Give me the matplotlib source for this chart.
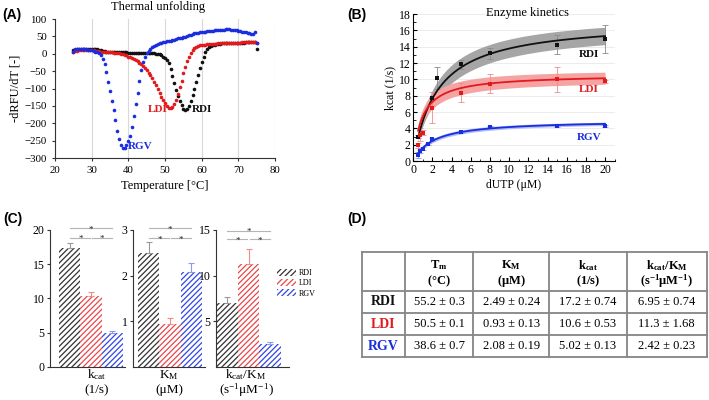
import numpy as np
import matplotlib
matplotlib.use('Agg')
import matplotlib.pyplot as plt
from matplotlib.ticker import MultipleLocator
from matplotlib.patches import Patch

plt.rcParams['font.family'] = ['Liberation Serif', 'DejaVu Serif']
plt.rcParams['mathtext.fontset'] = 'custom'
plt.rcParams['mathtext.rm'] = 'Liberation Serif'
plt.rcParams['mathtext.it'] = 'Liberation Serif:italic'
plt.rcParams['mathtext.bf'] = 'Liberation Serif:bold'
plt.rcParams['hatch.linewidth'] = 0.9

# ---------------- data ----------------
variants = ['RDI', 'LDI', 'RGV']
var_colors = ['#111111', '#e3191c', '#1a2ee0']

# Panel A: thermal unfolding (-dRFU/dT), 0.5 C steps 25..75
temp_c = np.arange(25.0, 75.01, 0.5)
rdi_dtm = [10, 12, 13, 13, 13, 13, 13, 13, 14, 14,
           15, 15, 15, 14, 12, 10, 8, 7, 6, 5,
           5, 4, 4, 4, 4, 4, 4, 4, 4, 4,
           3, 3, 3, 3, 3, 3, 3, 3, 3, 3,
           3, 3, 2, 2, 1, 0, -1, -2, -4, -8,
           -13, -18, -28, -45, -65, -85, -105, -122, -137, -148,
           -158, -163, -158, -150, -137, -120, -100, -80, -60, -42,
           -24, -8, 4, 13, 18, 21, 24, 26, 27, 28,
           29, 30, 30, 30, 30, 30, 30, 30, 30, 31,
           31, 31, 32, 32, 33, 33, 34, 34, 35, 35,
           15]
ldi_dtm = [5, 8, 9, 10, 10, 10, 11, 11, 11, 11,
           11, 10, 9, 8, 7, 6, 5, 5, 5, 5,
           4, 4, 3, 3, 2, 1, 0, -1, -3, -5,
           -8, -10, -13, -16, -19, -22, -26, -30, -36, -42,
           -48, -55, -62, -70, -80, -91, -102, -113, -124, -134,
           -143, -151, -156, -157, -154, -145, -132, -115, -97, -77,
           -56, -38, -22, -8, 3, 10, 16, 20, 23, 24,
           25, 26, 26, 27, 27, 28, 28, 29, 29, 30,
           30, 30, 31, 31, 31, 31, 32, 32, 32, 32,
           32, 32, 33, 33, 33, 33, 33, 33, 33, 33,
           32]
rgv_dtm = [5, 14, 15, 15, 15, 14, 14, 13, 12, 11,
           10, 8, 6, 4, 1, -4, -14, -30, -52, -80,
           -108, -135, -162, -192, -222, -245, -263, -271, -270, -262,
           -250, -236, -210, -180, -146, -112, -78, -48, -25, -8,
           2, 9, 14, 19, 23, 26, 28, 30, 32, 33,
           35, 36, 37, 38, 40, 41, 42, 44, 45, 46,
           47, 49, 51, 53, 55, 57, 59, 60, 61, 62,
           63, 64, 64, 65, 65, 66, 66, 67, 67, 68,
           68, 69, 69, 70, 70, 70, 69, 69, 68, 67,
           66, 65, 64, 63, 62, 61, 60, 58, 57, 62,
           30]

# Panel B: enzyme kinetics points
rdi_s = [0.5, 2, 2.5, 5, 8, 15, 20]
rdi_k = [3.0, 7.7, 10.2, 11.85, 13.2, 14.25, 14.95]
rdi_e = [0.15, 0.0, 1.35, 0.55, 0.65, 1.2, 1.75]
ldi_s = [0.5, 0.75, 1, 2, 5, 8, 15, 20]
ldi_k = [1.9, 3.2, 3.45, 6.5, 8.35, 9.45, 10.0, 9.75]
ldi_e = [0.3, 0.8, 0.3, 1.9, 1.15, 1.15, 1.55, 0.2]
rgv_s = [0.5, 0.75, 1, 1.5, 2, 5, 8, 15, 20]
rgv_k = [0.75, 1.2, 1.5, 2.1, 2.65, 3.55, 4.15, 4.25, 4.3]
rgv_e = [0.35, 0.2, 0.2, 0.15, 0.2, 0.1, 0.1, 0.1, 0.15]

# Fitted Michaelis-Menten parameters (table)
vmax = [17.2, 10.6, 5.02]
vmax_err = [0.74, 0.53, 0.13]
km = [2.49, 0.93, 2.08]
km_err = [0.24, 0.13, 0.19]

# Panel C: bars
kcat_vals = [17.3, 10.4, 5.0]
kcat_errs = [0.8, 0.5, 0.15]
km_vals = [2.49, 0.93, 2.07]
km_errs = [0.25, 0.13, 0.2]
eff_vals = [6.95, 11.24, 2.46]
eff_errs = [0.73, 1.66, 0.22]

# Panel D: table
tm_str = ['55.2 ± 0.3', '50.5 ± 0.1', '38.6 ± 0.7']
km_str = ['2.49 ± 0.24', '0.93 ± 0.13', '2.08 ± 0.19']
kcat_str = ['17.2 ± 0.74', '10.6 ± 0.53', '5.02 ± 0.13']
eff_str = ['6.95 ± 0.74', '11.3 ± 1.68', '2.42 ± 0.23']
head1 = [r'$\mathbf{T_m}$', r'$\mathbf{K_M}$', r'$\mathbf{k_{cat}}$', r'$\mathbf{k_{cat}/K_M}$']
head2 = [r'$\mathbf{(°C)}$', r'$\mathbf{(μM)}$', r'$\mathbf{(1/s)}$', r'$\mathbf{(s^{-1}μM^{-1})}$']

# ---------------- figure ----------------
W, H = 709, 400
fig = plt.figure(figsize=(7.09, 4.00), dpi=100)


def fax(l, t, r, b):
    return fig.add_axes([l / W, 1 - b / H, (r - l) / W, (b - t) / H])


panel_font = dict(family='Liberation Sans', weight='bold', fontsize=10)
fig.text(2 / W, 1 - 14.5 / H, '(A)', va='center', ha='left', **panel_font)
fig.text(347 / W, 1 - 14.5 / H, '(B)', va='center', ha='left', **panel_font)
fig.text(3 / W, 1 - 219 / H, '(C)', va='center', ha='left', **panel_font)
fig.text(347 / W, 1 - 219 / H, '(D)', va='center', ha='left', **panel_font)

# ---- Panel A ----
axA = fax(55, 19, 275, 158)
for vals, c in zip([rdi_dtm, ldi_dtm, rgv_dtm], var_colors):
    axA.plot(temp_c, vals, 'o', ms=2.6, mew=0, color=c, clip_on=False)
axA.set_xlim(20, 80)
axA.set_ylim(-300, 100)
axA.set_xticks(range(20, 81, 10))
axA.set_yticks(range(-300, 101, 50))
axA.xaxis.grid(True, color='#d9d9d9', lw=0.8)
axA.set_axisbelow(True)
for s in ['top', 'right']:
    axA.spines[s].set_visible(False)
axA.spines['left'].set_color('#333333')
axA.spines['bottom'].set_color('#333333')
axA.tick_params(labelsize=7.8, length=2, pad=4, color='#333333')
axA.set_xlabel('Temperature [°C]', fontsize=9, labelpad=3)
axA.set_ylabel('-dRFU/dT [-]', fontsize=9, labelpad=2)
axA.text(0.468, 1.088, 'Thermal unfolding', transform=axA.transAxes,
         ha='center', va='center', fontsize=9)
axA.text(48, -159, 'LDI', color=var_colors[1], fontsize=8, fontweight='bold',
         ha='center', va='center')
axA.text(60, -160, 'RDI', color=var_colors[0], fontsize=8, fontweight='bold',
         ha='center', va='center')
axA.text(43.3, -266, 'RGV', color=var_colors[2], fontsize=8, fontweight='bold',
         ha='center', va='center')

# ---- Panel B ----
axB = fax(413.3, 14, 614.6, 161)
band_cols = ['#a6a6a6', '#f5a3a3', '#b3bcf2']
s_fit = np.linspace(0.5, 20, 200)
k_band = 1.3
for i in range(3):
    up = (vmax[i] + k_band * vmax_err[i]) * s_fit / (km[i] - k_band * km_err[i] + s_fit)
    lo = (vmax[i] - k_band * vmax_err[i]) * s_fit / (km[i] + k_band * km_err[i] + s_fit)
    axB.fill_between(s_fit, lo, up, color=band_cols[i], lw=0, zorder=1)
for i in range(3):
    fit = vmax[i] * s_fit / (km[i] + s_fit)
    axB.plot(s_fit, fit, color=var_colors[i], lw=1.3, zorder=3)
err_cols = ['#8a8a8a', '#f08a8a', '#8a96ee']
for (sx, ky, ke), c, ec in zip([(rdi_s, rdi_k, rdi_e), (ldi_s, ldi_k, ldi_e), (rgv_s, rgv_k, rgv_e)],
                               var_colors, err_cols):
    axB.errorbar(sx, ky, yerr=ke, fmt='none', ecolor=ec, elinewidth=0.6,
                 capsize=2.2, capthick=0.6, zorder=2)
    axB.plot(sx, ky, 's', ms=3, color=c, mew=0, zorder=4)
axB.set_xlim(0, 21)
axB.set_ylim(0, 18)
axB.set_xticks(range(0, 21, 2))
axB.set_yticks(range(0, 19, 2))
axB.xaxis.set_minor_locator(MultipleLocator(1))
axB.yaxis.set_minor_locator(MultipleLocator(1))
axB.yaxis.grid(True, color='#ececec', lw=0.7)
axB.set_axisbelow(True)
for s in ['top', 'right']:
    axB.spines[s].set_visible(False)
axB.tick_params(which='both', direction='in', labelsize=8.5, pad=2)
axB.tick_params(which='major', length=3)
axB.tick_params(which='minor', length=1.8)
axB.set_xlabel('dUTP (μM)', fontsize=8.5, labelpad=2)
axB.set_ylabel('kcat (1/s)', fontsize=8.5, labelpad=2)
axB.text(0.565, 1.005, 'Enzyme kinetics', transform=axB.transAxes,
         ha='center', va='center', fontsize=9)
axB.text(18.3, 13.06, 'RDI', color=var_colors[0], fontsize=8, fontweight='bold',
         ha='center', va='center')
axB.text(18.3, 8.7, 'LDI', color=var_colors[1], fontsize=8, fontweight='bold',
         ha='center', va='center')
axB.text(18.3, 2.9, 'RGV', color=var_colors[2], fontsize=8, fontweight='bold',
         ha='center', va='center')

# ---- Panel C ----
hatch_cols = ['#333333', '#e8474a', '#3046e6']
cerr_cols = ['#9a9a9a', '#f28a8a', '#8a9af0']
c_specs = [
    (fax(50, 230, 125, 366.7), kcat_vals, kcat_errs, (0, 20), [0, 5, 10, 15, 20], (-0.94, 2.61),
     (18.9, 20.3), r'$\mathrm{k_{cat}}$', '(1/s)', 96.7),
    (fax(133.3, 230, 205, 366.7), km_vals, km_errs, (0, 3), [1, 2, 3], (-0.74, 2.66),
     (2.82, 3.04), r'$\mathrm{K_M}$', '(μM)', 169),
    (fax(216, 230, 289.3, 366.7), eff_vals, eff_errs, (0, 15), [5, 10, 15], (-0.53, 2.9),
     (13.98, 14.92), r'$\mathrm{k_{cat}/K_M}$', r'$\mathrm{(s^{-1}μM^{-1})}$', 246),
]
xpos = np.arange(3)
for ax, vals, errs, ylim, yt, xlim, brk, lab1, lab2, labx in c_specs:
    for i in range(3):
        ax.bar(xpos[i], vals[i], width=1.0, color='white', edgecolor=hatch_cols[i],
               hatch='//////', lw=0, zorder=2)
        ax.errorbar(xpos[i], vals[i], yerr=[[0], [errs[i]]], fmt='none', ecolor=cerr_cols[i],
                    elinewidth=0.8, capsize=2.2, capthick=0.8, zorder=3)
    ax.set_ylim(*ylim)
    ax.set_xlim(*xlim)
    ax.set_yticks(yt)
    ax.set_xticks([])
    for s in ['top', 'right']:
        ax.spines[s].set_visible(False)
    ax.spines['left'].set_color('#333333')
    ax.spines['bottom'].set_color('#333333')
    ax.tick_params(axis='y', labelsize=8.5, length=2.5, pad=1.5, color='#333333')
    lo_y, hi_y = brk
    gap = 0.06
    ax.plot([xpos[0], xpos[1] - gap], [lo_y, lo_y], color='#b5b5b5', lw=0.8, clip_on=False)
    ax.plot([xpos[1] + gap, xpos[2]], [lo_y, lo_y], color='#b5b5b5', lw=0.8, clip_on=False)
    ax.plot([xpos[0], xpos[2]], [hi_y, hi_y], color='#b5b5b5', lw=0.8, clip_on=False)
    for xs, yy in [((xpos[0] + xpos[1]) / 2, lo_y), ((xpos[1] + xpos[2]) / 2, lo_y),
                   (xpos[1], hi_y)]:
        ax.annotate('*', (xs, yy), xytext=(0, -2.5), textcoords='offset points',
                    ha='center', va='baseline', fontsize=6.5, color='#222222',
                    annotation_clip=False)
    fig.text(labx / W, 1 - 375 / H, lab1, ha='center', va='center', fontsize=9.5)
    fig.text(labx / W, 1 - 390 / H, lab2, ha='center', va='center', fontsize=9.5)

leg_handles = [Patch(facecolor='white', edgecolor=hatch_cols[i], hatch='//////', lw=0)
               for i in range(3)]
fig.legend(leg_handles, variants, loc='upper left', bbox_to_anchor=(277 / W, 1 - 268.5 / H),
           frameon=False, fontsize=5.8, handlelength=2.4, handleheight=1.0,
           handletextpad=0.25, labelspacing=0.25, borderpad=0, borderaxespad=0)

# ---- Panel D: table ----
axT = fax(361.7, 251.7, 706.7, 356.7)
axT.set_xlim(0, 345)
axT.set_ylim(105, 0)
axT.axis('off')
col_edges = [0, 43.3, 111.6, 187.6, 265, 345]
row_edges = [0, 39, 61.6, 83.3, 105]
line_c = '#858585'
for xe in col_edges:
    axT.plot([xe, xe], [0, 105], color=line_c, lw=1.3, clip_on=False, solid_capstyle='projecting')
for ye in row_edges:
    axT.plot([0, 345], [ye, ye], color=line_c, lw=1.3, clip_on=False, solid_capstyle='projecting')
for j in range(4):
    cx = (col_edges[j + 1] + col_edges[j + 2]) / 2
    axT.text(cx, 13.5, head1[j], ha='center', va='center', fontsize=9)
    axT.text(cx, 29.5, head2[j], ha='center', va='center', fontsize=9)
row_cy = [50.2, 72.3, 94.5]
cols_str = [tm_str, km_str, kcat_str, eff_str]
for r in range(3):
    axT.text(col_edges[1] / 2, row_cy[r], variants[r], ha='center', va='center',
             fontsize=10, fontweight='bold', color=var_colors[r])
    for j in range(4):
        cx = (col_edges[j + 1] + col_edges[j + 2]) / 2
        axT.text(cx, row_cy[r], cols_str[j][r], ha='center', va='center', fontsize=9)

fig.savefig('out.png', dpi=100)
